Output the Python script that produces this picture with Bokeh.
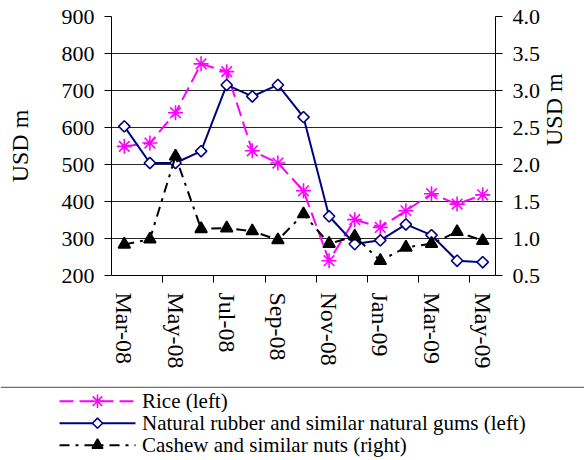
import math
from bokeh.plotting import figure
from bokeh.models import Range1d, LinearAxis, FixedTicker, PrintfTickFormatter, Span
from bokeh.core.properties import value
from bokeh.layouts import column
from bokeh.embed import file_html
from bokeh.resources import INLINE

months = ["Mar-08", "Apr-08", "May-08", "Jun-08", "Jul-08", "Aug-08", "Sep-08", "Oct-08",
          "Nov-08", "Dec-08", "Jan-09", "Feb-09", "Mar-09", "Apr-09", "May-09"]
rice = [549, 558, 640, 772, 751, 537, 504, 429, 240, 351, 330, 375, 421, 393, 418]
rubber = [603, 504, 504, 536, 715, 684, 715, 628, 360, 285, 295, 338, 309, 240, 236]
cashew = [0.92, 0.99, 2.11, 1.13, 1.14, 1.10, 0.98, 1.33, 0.93, 1.03, 0.70, 0.88, 0.93, 1.09, 0.97]
left_ticks = [200, 300, 400, 500, 600, 700, 800, 900]
right_ticks = [0.5, 1.0, 1.5, 2.0, 2.5, 3.0, 3.5, 4.0]
series_names = ["Rice (left)", "Natural rubber and similar natural gums (left)",
                "Cashew and similar nuts (right)"]

FONT = "Liberation Serif"
W = 584
PH = 386
LH = 74
STYLES = [
    dict(color="#FF00FF", dash="14 6", marker="asterisk", size=15, fill=None, angle=0.0),
    dict(color="#000080", dash="solid", marker="square", size=8, fill="white", angle=math.pi / 4),
    dict(color="#000000", dash="10 6 3 6", marker="triangle", size=12, fill="#000000", angle=0.0),
]

xs = list(range(len(months)))

p = figure(width=W, height=PH, output_backend="svg", toolbar_location=None,
           x_range=Range1d(-0.5, len(months) - 0.5), y_range=Range1d(200, 900),
           min_border_left=111, min_border_right=89, min_border_top=16, min_border_bottom=111)
p.frame_align = False
p.extra_y_ranges = {"right": Range1d(0.5, 4.0)}
p.outline_line_color = None
p.background_fill_color = "white"
p.border_fill_color = "white"

# x axis
xa = p.xaxis[0]
label_idx = xs[::2]
xa.ticker = FixedTicker(ticks=label_idx, minor_ticks=[i + 1.5 for i in xs[:-1:2]])
xa.major_label_overrides = {i: months[i] for i in label_idx}
xa.major_label_orientation = "vertical"
xa.major_tick_line_color = None
xa.major_tick_out = 7
xa.major_tick_in = 0
xa.minor_tick_line_color = "black"
xa.minor_tick_out = 7
xa.minor_tick_in = 0
xa.major_label_standoff = 10
xa.major_label_text_font = FONT
xa.major_label_text_font_size = "24px"
xa.major_label_text_color = "black"
xa.axis_line_color = "black"

# left axis
ya = p.yaxis[0]
ya.ticker = FixedTicker(ticks=left_ticks)
ya.axis_label = "USD m"
ya.axis_label_text_font = FONT
ya.axis_label_text_font_size = "24px"
ya.axis_label_text_font_style = "normal"
ya.axis_label_text_color = "black"
ya.axis_label_standoff = 26
ya.major_label_text_font = FONT
ya.major_label_text_font_size = "22px"
ya.major_label_text_color = "black"
ya.major_label_standoff = 10
ya.major_tick_out = 7
ya.major_tick_in = 0
ya.minor_tick_line_color = None
ya.axis_line_color = "black"
ya.major_tick_line_color = "black"

# right axis
ra = LinearAxis(y_range_name="right", ticker=FixedTicker(ticks=right_ticks),
                formatter=PrintfTickFormatter(format="%.1f"))
ra.axis_label = "USD m"
ra.axis_label_orientation = math.pi / 2
ra.axis_label_text_font = FONT
ra.axis_label_text_font_size = "24px"
ra.axis_label_text_font_style = "normal"
ra.axis_label_text_color = "black"
ra.axis_label_standoff = 11
ra.major_label_text_font = FONT
ra.major_label_text_font_size = "22px"
ra.major_label_text_color = "black"
ra.major_label_standoff = 10
ra.major_tick_out = 7
ra.major_tick_in = 0
ra.minor_tick_line_color = None
ra.axis_line_color = "black"
p.add_layout(ra, "right")

p.xgrid.grid_line_color = None
p.ygrid.ticker = FixedTicker(ticks=left_ticks)
p.ygrid.grid_line_color = "black"
p.ygrid.grid_line_alpha = 0.85
p.ygrid.grid_line_width = 1

ranges = [None, None, "right"]
for vals, st, rn in zip([rice, rubber, cashew], STYLES, ranges):
    kw = {} if rn is None else {"y_range_name": rn}
    p.line(xs, vals, line_color=st["color"], line_width=2, line_dash=st["dash"], **kw)
    p.scatter(xs, vals, marker=st["marker"], size=st["size"], angle=st["angle"],
              fill_color=st["fill"], line_color=st["color"], line_width=1.6, **kw)

# legend panel (below the chart, separated by a rule)
q = figure(width=W, height=LH, output_backend="svg", toolbar_location=None,
           x_range=Range1d(0, W), y_range=Range1d(0, LH),
           min_border=0, min_border_left=0, min_border_right=0,
           min_border_top=0, min_border_bottom=0)
q.frame_align = False
q.axis.visible = False
q.grid.visible = False
q.outline_line_color = None
q.border_fill_color = "white"
q.background_fill_color = "white"
q.add_layout(Span(location=LH - 0.7, dimension="width", line_color="#707070", line_width=1.5))

row_step = 22
first_row = LH - 14.7
g_x0, g_x1, txt_x = 59, 135, 141.5
for i, (name, st) in enumerate(zip(series_names, STYLES)):
    yy = first_row - i * row_step
    q.line([g_x0, g_x1], [yy, yy], line_color=st["color"], line_width=2, line_dash=st["dash"])
    q.scatter([(g_x0 + g_x1) / 2], [yy], marker=st["marker"], size=st["size"] * 0.9,
              angle=st["angle"], fill_color=st["fill"], line_color=st["color"], line_width=1.6)
    q.text([txt_x], [yy], text=[name], text_font=value(FONT), text_font_size="21px",
           text_baseline="middle", text_align="left", text_color="black")

layout = column(p, q, spacing=0, width=W, height=PH + LH, sizing_mode="fixed")
open("out.html", "w").write(file_html(layout, INLINE))
